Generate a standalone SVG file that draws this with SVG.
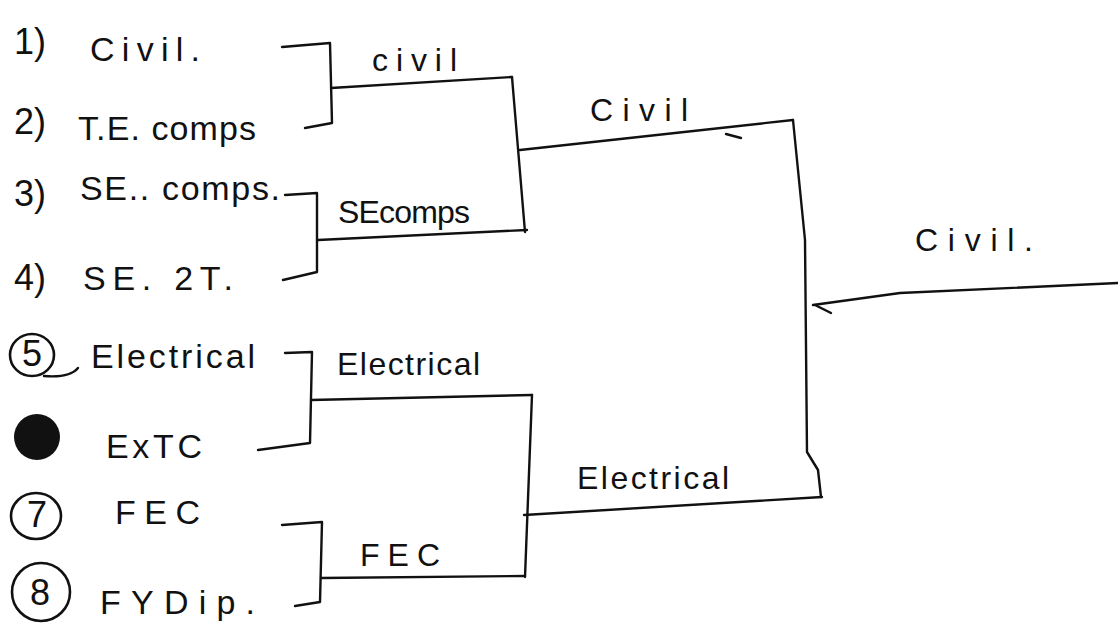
<svg xmlns="http://www.w3.org/2000/svg" width="1118" height="631" viewBox="0 0 1118 631">
<style>
  text { font-family: "Liberation Sans", "DejaVu Sans", sans-serif; fill: #111; }
  .ln { fill: none; stroke: #111; stroke-width: 2.4; stroke-linecap: round; stroke-linejoin: round; }
  .num { font-size: 36px; }
  .ring { fill: none; stroke: #111; stroke-width: 2.6; }
  .team { font-size: 34px; }
  .win { font-size: 32px; }
</style>
<rect width="1118" height="631" fill="#ffffff"/>

<g id="connectors">
  <!-- pair 1 -->
  <path class="ln" d="M282 47 L330 43 L332 123 L305 128"/>
  <path class="ln" d="M331 88 L512 77"/>
  <!-- pair 2 -->
  <path class="ln" d="M285 195 L317 193 L317 272 L283 280"/>
  <path class="ln" d="M318 240 L527 230"/>
  <!-- pair 3 -->
  <path class="ln" d="M285 353 L312 352 L310 443 L258 450"/>
  <path class="ln" d="M311 400 L532 395"/>
  <!-- pair 4 -->
  <path class="ln" d="M282 525 L322 522 L320 602 L295 606"/>
  <path class="ln" d="M321 578 L525 576"/>
  <!-- semifinal upper -->
  <path class="ln" d="M512 77 L525 232"/>
  <path class="ln" d="M520 150 L793 120"/>
  <path class="ln" d="M726 134 L741 138"/>
  <!-- semifinal lower -->
  <path class="ln" d="M532 395 L525 577"/>
  <path class="ln" d="M524 515 L822 497"/>
  <!-- final bracket -->
  <path class="ln" d="M793 120 L805 240 L807 452 L818 470 L821 497"/>
  <path class="ln" d="M813 305 L900 293 L1118 283"/>
  <path class="ln" d="M815 305 L831 313"/>
</g>

<g id="team-1">
  <text class="num" x="14" y="54">1)</text>
  <text class="team" x="90" y="61" textLength="110" lengthAdjust="spacing">Civil.</text>
</g>
<g id="team-2">
  <text class="num" x="14" y="134">2)</text>
  <text class="team" x="78" y="140" font-size="32" textLength="178" lengthAdjust="spacing">T.E. comps</text>
</g>
<g id="team-3">
  <text class="num" x="14" y="206">3)</text>
  <text class="team" x="80" y="200" textLength="200" lengthAdjust="spacing">SE.. comps.</text>
</g>
<g id="team-4">
  <text class="num" x="14" y="290">4)</text>
  <text class="team" x="83" y="290" font-size="36" textLength="150" lengthAdjust="spacing">SE. 2T.</text>
</g>
<g id="team-5">
  <ellipse class="ring" cx="32" cy="355" rx="22" ry="21"/>
  <path class="ln" d="M44 376 Q70 378 78 368"/>
  <text class="num" x="22" y="366" font-size="30">5</text>
  <text class="team" x="91" y="368" textLength="164" lengthAdjust="spacing">Electrical</text>
</g>
<g id="team-6">
  <circle cx="37" cy="437" r="23" fill="#111"/>
  <text class="team" x="106" y="458" font-size="32" textLength="96" lengthAdjust="spacing">ExTC</text>
</g>
<g id="team-7">
  <ellipse class="ring" cx="36" cy="516" rx="25" ry="23"/>
  <text class="num" x="27" y="527" font-size="30">7</text>
  <text class="team" x="115" y="524" textLength="85" lengthAdjust="spacing">FEC</text>
</g>
<g id="team-8">
  <ellipse class="ring" cx="41" cy="592" rx="29" ry="29"/>
  <text class="num" x="30" y="605" font-size="34">8</text>
  <text class="team" x="100" y="614" font-size="36" textLength="155" lengthAdjust="spacing">FYDip.</text>
</g>

<g id="match-1">
  <text class="win" x="372" y="71" textLength="85" lengthAdjust="spacing">civil</text>
</g>
<g id="match-2">
  <text class="win" x="338" y="223" textLength="132" lengthAdjust="spacing">SEcomps</text>
</g>
<g id="match-3">
  <text class="win" x="337" y="375" textLength="143" lengthAdjust="spacing">Electrical</text>
</g>
<g id="match-4">
  <text class="win" x="360" y="566" font-size="36" textLength="80" lengthAdjust="spacing">FEC</text>
</g>
<g id="semi-1">
  <text class="win" x="590" y="121" font-size="38" textLength="98" lengthAdjust="spacing">Civil</text>
</g>
<g id="semi-2">
  <text class="win" x="577" y="489" textLength="152" lengthAdjust="spacing">Electrical</text>
</g>
<g id="final">
  <text class="win" x="915" y="251" font-size="40" textLength="118" lengthAdjust="spacing">Civil.</text>
</g>
</svg>
